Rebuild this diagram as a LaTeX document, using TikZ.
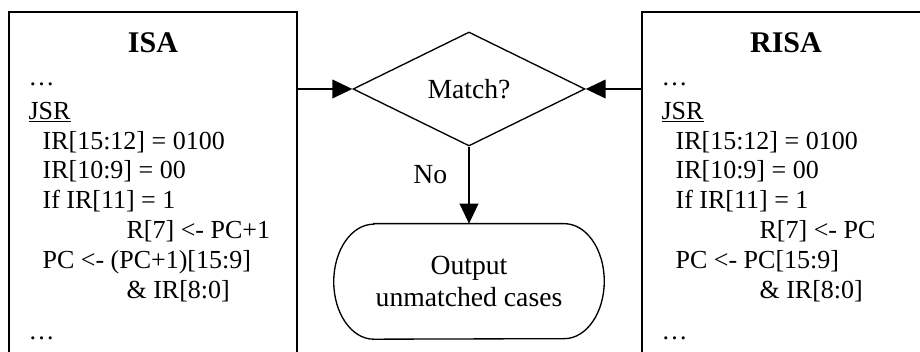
\documentclass[tikz,border=0pt]{standalone}
\usepackage{fontspec}
\setmainfont{Liberation Serif}
\usetikzlibrary{arrows.meta, positioning, shapes.geometric}

\begin{document}
\begin{tikzpicture}[
  font=\fontsize{19.5pt}{22.35pt}\selectfont,
  isabox/.style  ={rectangle, draw, line width=1.5pt, minimum width=216pt,
                   minimum height=270pt, inner sep=0pt, outer sep=0pt},
  boxtitle/.style={font=\fontsize{22.5pt}{26pt}\selectfont\bfseries, inner sep=0pt},
  listing/.style ={inner sep=0pt},
  flowtext/.style={font=\fontsize{20.75pt}{23.5pt}\selectfont},
  dec/.style     ={diamond, aspect=2, draw, line width=1pt, minimum width=174pt,
                   minimum height=85.5pt, inner sep=0pt, flowtext},
  term/.style    ={rectangle, minimum width=202.5pt, minimum height=86.25pt,
                   align=center, inner sep=0pt, flowtext},
  termline/.style={line width=1pt},
  flow/.style    ={-{Triangle[length=15pt, width=14pt]}, line width=1.25pt},
]
\useasboundingbox (0,0) rectangle (690pt,264pt);
\clip (0,0) rectangle (690pt,264pt);

% ---- instruction set boxes (run off the page on purpose) ----
\node[isabox, anchor=north west] (isa)  at (6.75pt,255.25pt) {};
\node[isabox, anchor=north west] (risa) at (481.5pt,255.25pt) {};

\node[boxtitle, anchor=base] (isatitle)  at ([yshift=-31pt]isa.north)  {ISA};
\node[boxtitle, anchor=base] (risatitle) at ([yshift=-31pt]risa.north) {RISA};

\node[listing, anchor=base west] (isacode) at ([xshift=14.5pt,yshift=-55.75pt]isa.north west) {%
  \begin{tabular}[t]{@{}l@{}}
  …\\[2.6pt]
  \underline{JSR}\\
  \hspace*{10.5pt}IR[15:12] = 0100\\
  \hspace*{10.5pt}IR[10:9] = 00\\
  \hspace*{10.5pt}If IR[11] = 1\\
  \hspace*{73.5pt}R[7] <- PC+1\\
  \hspace*{10.5pt}PC <- (PC+1)[15:9]\\
  \hspace*{73.5pt}\& IR[8:0]\\[8.8pt]
  …
  \end{tabular}};

\node[listing, anchor=base west] (risacode) at ([xshift=14.5pt,yshift=-55.75pt]risa.north west) {%
  \begin{tabular}[t]{@{}l@{}}
  …\\[2.6pt]
  \underline{JSR}\\
  \hspace*{10.5pt}IR[15:12] = 0100\\
  \hspace*{10.5pt}IR[10:9] = 00\\
  \hspace*{10.5pt}If IR[11] = 1\\
  \hspace*{73.5pt}R[7] <- PC\\
  \hspace*{10.5pt}PC <- PC[15:9]\\
  \hspace*{73.5pt}\& IR[8:0]\\[8.8pt]
  …
  \end{tabular}};

% ---- decision and output ----
\node[dec] (match) at (351.75pt,197.25pt) {Match?};
\node[term, below=57.75pt of match] (out) {Output\\unmatched cases};

% terminator outline with elliptic ends
\draw[termline] ([xshift=30pt]out.north west) -- ([xshift=-30pt]out.north east)
  arc[start angle=90, end angle=-90, x radius=30pt, y radius=43.125pt]
  -- ([xshift=30pt]out.south west)
  arc[start angle=270, end angle=90, x radius=30pt, y radius=43.125pt] -- cycle;

% ---- connectors ----
\draw[flow] (isa.east |- match.west)  -- (match.west);
\draw[flow] (risa.west |- match.east) -- (match.east);
\draw[flow] (match.south) -- node[pos=0.36, left=15.75pt, inner sep=0pt, flowtext] {No} (out.north);

\end{tikzpicture}
\end{document}
